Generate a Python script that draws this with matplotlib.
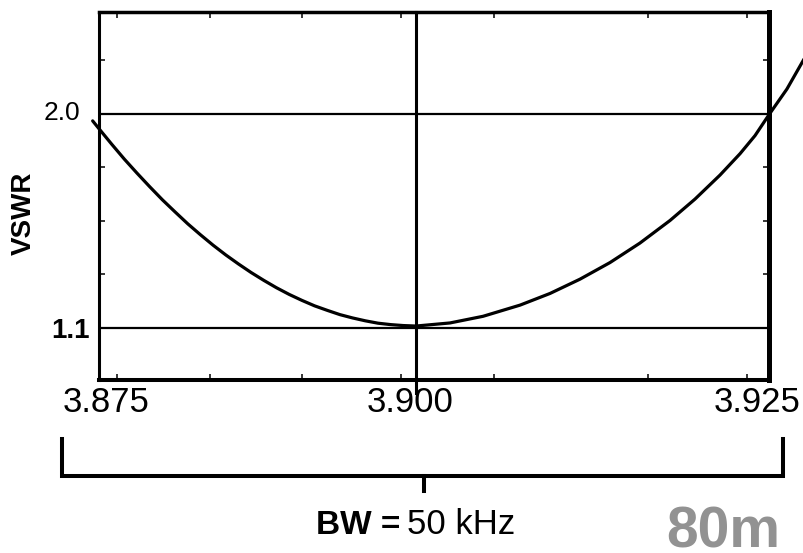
import numpy as np
import matplotlib
matplotlib.use('Agg')
import matplotlib.pyplot as plt
from matplotlib.lines import Line2D
from matplotlib.transforms import ScaledTranslation

plt.rcParams['font.family'] = ['Liberation Sans', 'DejaVu Sans']

# Frecuencia (MHz) y VSWR
freq = [3.8745, 3.875, 3.876, 3.877, 3.878, 3.879, 3.880, 3.881, 3.882, 3.883,
        3.884, 3.885, 3.886, 3.887, 3.888, 3.889, 3.890, 3.891, 3.892, 3.893,
        3.894, 3.895, 3.896, 3.897, 3.898, 3.899, 3.900,
        3.90241, 3.90475, 3.90737, 3.90949, 3.91161, 3.91374, 3.91586, 3.91799,
        3.91976, 3.92153, 3.92295, 3.92401, 3.92500, 3.92627, 3.92748]
vswr = [1.971, 1.938, 1.873, 1.810, 1.751, 1.694, 1.639, 1.588, 1.538, 1.492,
        1.448, 1.407, 1.369, 1.333, 1.300, 1.269, 1.241, 1.216, 1.193, 1.174,
        1.156, 1.142, 1.130, 1.120, 1.114, 1.110, 1.108,
        1.121, 1.149, 1.196, 1.245, 1.305, 1.375, 1.457, 1.552,
        1.642, 1.743, 1.833, 1.909, 1.997, 2.105, 2.231]

x_ticks = [3.875, 3.900, 3.925]
x_labels = ['3.875', '3.900', '3.925']
ref_lines = [2.0, 1.1]
y_labels = ['2.0', '1.1']
minor_x = [3.87642, 3.88375, 3.89101, 3.89882, 3.90552, 3.91643, 3.92344]
minor_y = [1.325, 1.55, 1.775, 2.225]
centro = 3.900
bw_text = '50 kHz'
banda = '80m'


# escala a tramos: la mitad izquierda del dibujo es mas estrecha que la derecha
def adelante(f):
    f = np.asarray(f, dtype=float)
    return np.where(f < 3.9, (f - 3.875) / 0.025 * 317, 317 + (f - 3.9) / 0.025 * 353)


def atras(u):
    u = np.asarray(u, dtype=float)
    return np.where(u < 317, 3.875 + u / 317 * 0.025, 3.9 + (u - 317) / 353 * 0.025)


W, H = 804, 553
fig = plt.figure(figsize=(W / 100, H / 100), dpi=100)
ax = fig.add_axes([99 / W, 1 - 380 / H, 670 / W, 368 / H])
ax.set_xscale('function', functions=(adelante, atras))
ax.set_xlim(3.875, 3.925)
ax.set_ylim(0.881, 2.429)

ax.plot(freq, vswr, color='black', lw=2.3, clip_on=False, solid_capstyle='round')
for v in ref_lines:
    ax.axhline(v, color='black', lw=1.6)
ax.axvline(centro, color='black', lw=2.2, ymin=-0.035, ymax=1, clip_on=False)

# marco
anchos = {'left': 2.2, 'top': 2.5, 'bottom': 2.9, 'right': 3.6}
for lado, lw in anchos.items():
    ax.spines[lado].set_linewidth(lw)
    ax.spines[lado].set_capstyle('projecting')

ax.set_xticks(x_ticks, x_labels, fontsize=25)
ax.set_xticks(minor_x, minor=True)
ax.set_yticks(ref_lines, y_labels, fontsize=19)
ax.set_yticks(minor_y, minor=True)
ax.tick_params(which='major', length=0)
ax.tick_params(axis='x', which='major', pad=4)
ax.tick_params(axis='y', which='major', pad=7)
ax.tick_params(which='minor', direction='in', length=4, width=1.1,
               top=True, right=True, bottom=True, left=True)

desp_x = [7, -6, -12]
for lab, d in zip(ax.get_xticklabels(), desp_x):
    lab.set_transform(lab.get_transform() + ScaledTranslation(d / 100, 0, fig.dpi_scale_trans))
for lab in ax.get_yticklabels():
    if lab.get_text() == '1.1':
        lab.set_fontweight('bold')
        lab.set_fontsize(20)
    else:
        lab.set_transform(lab.get_transform() + ScaledTranslation(-9 / 100, 3 / 100, fig.dpi_scale_trans))

fig.text(24 / W, 1 - 213 / H, 'VSWR', rotation=90, fontsize=20, fontweight='bold',
         ha='center', va='center')

# corchete del ancho de banda
yb = 1 - 476 / H
fig.add_artist(Line2D([62 / W, 62 / W, 783 / W, 783 / W],
                      [1 - 439 / H, yb, yb, 1 - 439 / H],
                      color='black', lw=2.9, solid_joinstyle='miter'))
fig.add_artist(Line2D([424 / W, 424 / W], [yb, 1 - 491 / H], color='black', lw=2.9))

fig.text(400 / W, 1 - 534 / H, 'BW =', fontsize=24, fontweight='bold', ha='right', va='baseline')
fig.text(407 / W, 1 - 534 / H, bw_text, fontsize=25, ha='left', va='baseline')
fig.text(723 / W, 5 / H, banda, fontsize=41, fontweight='bold', color='#929292',
         ha='center', va='baseline')

fig.savefig('out.png', dpi=100)
